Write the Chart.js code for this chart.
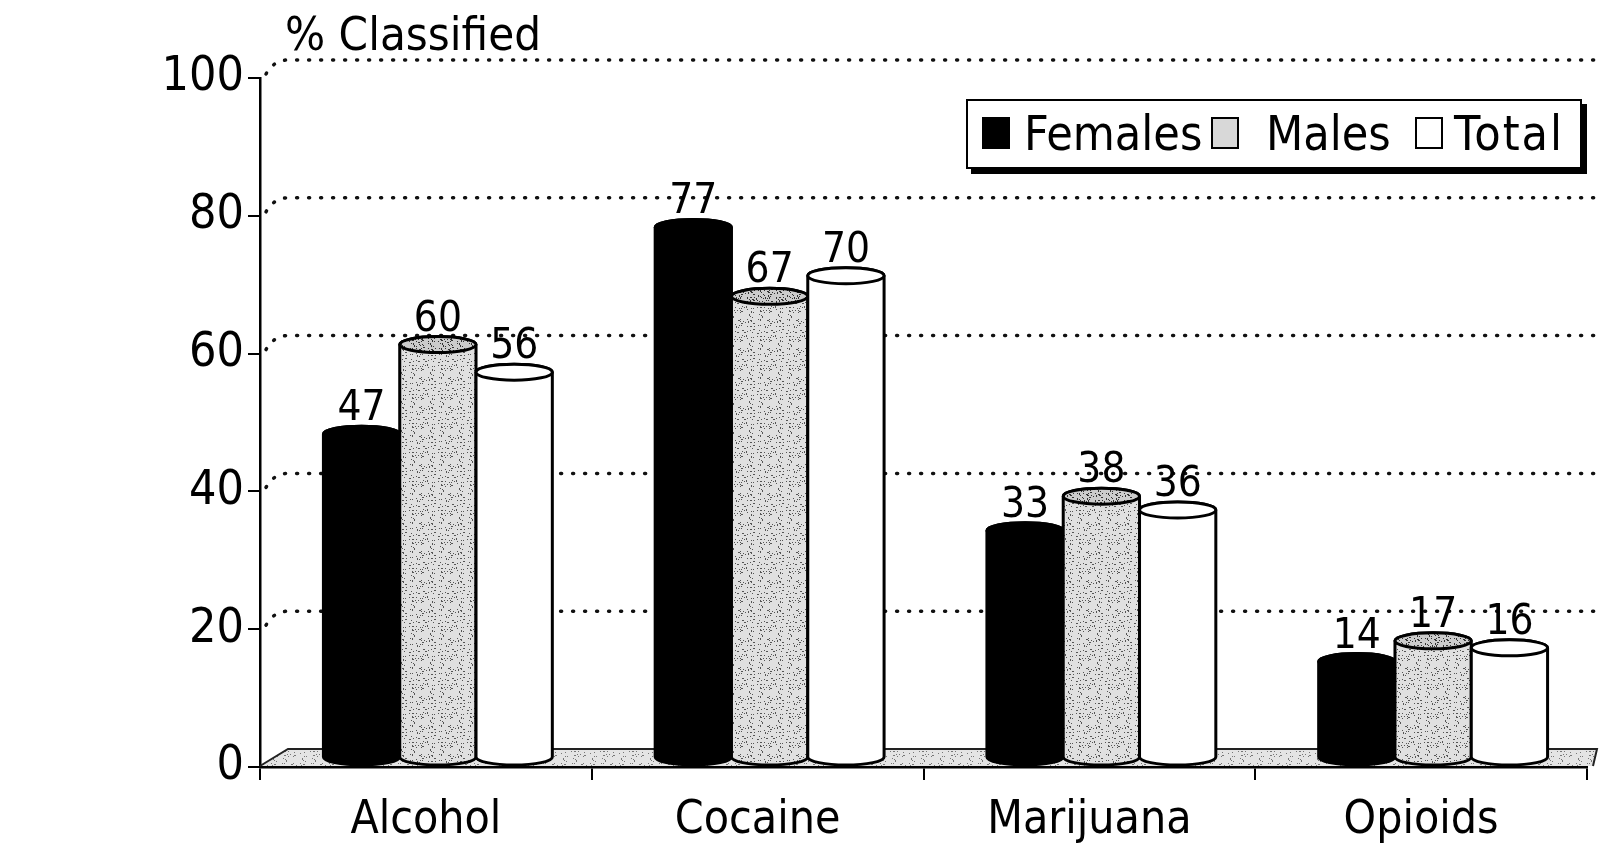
<!DOCTYPE html>
<html>
<head>
<meta charset="utf-8">
<script src="https://cdn.jsdelivr.net/npm/chart.js@4.4.0/dist/chart.umd.min.js"></script>
<style>
    html, body { margin: 0; padding: 0; background: #fff; }
    #wrap { position: relative; width: 1600px; height: 847px; }
    #legend {
        position: absolute; left: 966px; top: 99px; width: 612px; height: 66px;
        border: 2px solid #000; box-shadow: 5px 5px 0 #000; background: #fff;
        font-family: 'DejaVu Sans Condensed', 'DejaVu Sans', sans-serif; font-size: 48px; color: #000;
    }
    #legend .sw { position: absolute; top: 16px; width: 28px; height: 32px; border: 2px solid #000; box-sizing: border-box; }
    #legend .tx { position: absolute; top: 4px; line-height: 56px; white-space: nowrap; }
</style>
</head>
<body>
<div id="wrap">
    <canvas id="chart" width="1600" height="847"></canvas>
    <div id="legend">
        <span class="sw" style="left:14px;background:#000"></span>
        <span class="tx" style="left:56px">Females</span>
        <span class="sw" style="left:243px;background:#d8d8d8"></span>
        <span class="tx" style="left:298px">Males</span>
        <span class="sw" style="left:447px;background:#fff"></span>
        <span class="tx" style="left:486px;letter-spacing:2px">Total</span>
    </div>
</div>
<script>
var categories = ['Alcohol', 'Cocaine', 'Marijuana', 'Opioids'];
var females = [47, 77, 33, 14];
var males = [60, 67, 38, 17];
var total = [56, 70, 36, 16];
var yTicks = [0, 20, 40, 60, 80, 100];

var FONT = "'DejaVu Sans Condensed', 'DejaVu Sans', sans-serif";
var depth = {x: 28, y: 18};
var capRy = 8;

var canvas = document.getElementById('chart');
var ctx0 = canvas.getContext('2d');

// deterministic speckle texture for the scanned grey fills
function stipple(base, dark, density) {
    var tile = document.createElement('canvas');
    tile.width = tile.height = 29;
    var g = tile.getContext('2d');
    g.fillStyle = base;
    g.fillRect(0, 0, 29, 29);
    g.fillStyle = dark;
    for (var i = 0; i < 29; i++) {
        for (var j = 0; j < 29; j++) {
            if (((i * i * 13 + j * j * 7 + i * j * 5 + i * 3 + j) % 31) < density) g.fillRect(i, j, 1, 1);
        }
    }
    return ctx0.createPattern(tile, 'repeat');
}

var malesFill = stipple('#e0e0e0', '#555', 3);
var malesTop = stipple('#cccccc', '#333', 5);
var floorFill = stipple('#e4e4e4', '#777', 2);

var fills = ['#000', malesFill, '#fff'];
var topFills = ['#000', malesTop, '#fff'];

function drawCylinder(ctx, cx, top, base, w, fill, topFill) {
    var rx = w / 2;
    ctx.beginPath();
    ctx.moveTo(cx - rx, top);
    ctx.lineTo(cx - rx, base);
    ctx.ellipse(cx, base, rx, capRy, 0, Math.PI, 0, true);
    ctx.lineTo(cx + rx, top);
    ctx.ellipse(cx, top, rx, capRy, 0, 0, Math.PI, true);
    ctx.closePath();
    ctx.fillStyle = fill;
    ctx.fill();
    ctx.lineWidth = 3;
    ctx.strokeStyle = '#000';
    ctx.stroke();

    ctx.beginPath();
    ctx.ellipse(cx, top, rx, capRy, 0, 0, Math.PI * 2);
    ctx.fillStyle = topFill;
    ctx.fill();
    ctx.stroke();
}

var depthPlugin = {
    id: 'depth',
    beforeDatasetsDraw: function (chart) {
        var ctx = chart.ctx;
        var a = chart.chartArea;
        var ys = chart.scales.y;
        ctx.save();

        // floor
        ctx.beginPath();
        ctx.moveTo(a.left, a.bottom - 1);
        ctx.lineTo(a.left + depth.x, a.bottom - depth.y);
        ctx.lineTo(a.right + 10, a.bottom - depth.y);
        ctx.lineTo(a.right + 6, a.bottom - 1);
        ctx.closePath();
        ctx.fillStyle = floorFill;
        ctx.fill();
        ctx.beginPath();
        ctx.moveTo(a.left, a.bottom - 1);
        ctx.lineTo(a.left + depth.x, a.bottom - depth.y);
        ctx.lineTo(a.right + 10, a.bottom - depth.y);
        ctx.lineTo(a.right + 6, a.bottom - 1);
        ctx.strokeStyle = '#222';
        ctx.lineWidth = 2;
        ctx.stroke();

        // dotted grid on the back wall
        ctx.setLineDash([1, 11]);
        ctx.lineCap = 'round';
        ctx.lineWidth = 3.5;
        ctx.strokeStyle = '#111';
        yTicks.forEach(function (v) {
            if (v === 0) return;
            var py = ys.getPixelForValue(v);
            ctx.beginPath();
            ctx.moveTo(a.left + 6, py - 4);
            ctx.quadraticCurveTo(a.left + 14, py - depth.y, a.left + depth.x, py - depth.y);
            ctx.lineTo(chart.width, py - depth.y);
            ctx.stroke();
        });
        ctx.restore();

        ctx.save();
        ctx.translate(depth.x / 2 - 2, -depth.y / 2);
    },
    afterDatasetsDraw: function (chart) {
        var ctx = chart.ctx;
        var n = chart.data.datasets.length;
        var d, meta;
        for (d = 0; d < n; d++) {
            meta = chart.getDatasetMeta(d);
            meta.data.forEach(function (bar) {
                var p = bar.getProps(['x', 'y', 'base', 'width'], true);
                drawCylinder(ctx, p.x, p.y, p.base, p.width, fills[d], topFills[d]);
            });
        }
        ctx.fillStyle = '#000';
        ctx.font = '42px ' + FONT;
        ctx.textAlign = 'center';
        ctx.textBaseline = 'alphabetic';
        for (d = 0; d < n; d++) {
            meta = chart.getDatasetMeta(d);
            var vals = chart.data.datasets[d].data;
            meta.data.forEach(function (bar, i) {
                var p = bar.getProps(['x', 'y'], true);
                ctx.fillText(String(vals[i]), p.x, p.y - capRy - 6);
            });
        }
        ctx.restore();

        // axis title
        ctx.save();
        ctx.fillStyle = '#000';
        ctx.font = '47px ' + FONT;
        ctx.textAlign = 'left';
        ctx.textBaseline = 'alphabetic';
        ctx.fillText('% Classified', chart.chartArea.left + 25, 50);
        ctx.restore();
    }
};

new Chart(canvas, {
    type: 'bar',
    data: {
        labels: categories,
        datasets: [
            {label: 'Females', data: females, backgroundColor: '#000', borderWidth: 0},
            {label: 'Males', data: males, backgroundColor: malesFill, borderWidth: 0},
            {label: 'Total', data: total, backgroundColor: '#fff', borderWidth: 0}
        ]
    },
    options: {
        responsive: false,
        animation: false,
        layout: {padding: {top: 78, right: 13, left: 0, bottom: 0}},
        datasets: {bar: {barPercentage: 1.0, categoryPercentage: 0.69}},
        plugins: {legend: {display: false}, tooltip: {enabled: false}, title: {display: false}},
        scales: {
            x: {
                grid: {drawOnChartArea: false, drawTicks: true, tickLength: 13, color: '#000', lineWidth: 2},
                border: {display: true, color: '#000', width: 2.5},
                ticks: {color: '#000', font: {family: FONT, size: 46}, padding: 13},
                afterFit: function (scale) { scale.height = 80; }
            },
            y: {
                min: 0,
                max: 100,
                afterBuildTicks: function (scale) {
                    scale.ticks = yTicks.map(function (v) { return {value: v}; });
                },
                grid: {drawOnChartArea: false, drawTicks: true, tickLength: 12, color: '#000', lineWidth: 2},
                border: {display: true, color: '#000', width: 2.5},
                ticks: {color: '#000', font: {family: FONT, size: 48}, padding: 4},
                afterFit: function (scale) { scale.width = 260; }
            }
        }
    },
    plugins: [depthPlugin]
});
</script>
</body>
</html>
